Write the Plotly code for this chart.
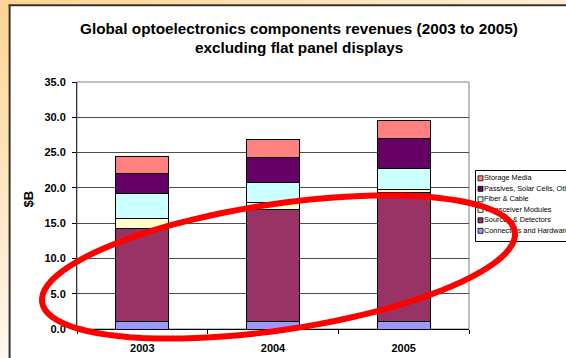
import math
import plotly.graph_objects as go

# Revenues by component group, $B
years = ["2003", "2004", "2005"]
connectors_hw = [1.0, 1.1, 1.1]
sources_detectors = [13.2, 15.8, 18.2]
transceiver_modules = [1.4, 1.0, 0.4]
fiber_cable = [3.6, 2.9, 3.0]
passives_solar_other = [2.9, 3.5, 4.3]
storage_media = [2.3, 2.6, 2.5]

series_names = ["Connectors and Hardware", "Sources & Detectors", "Transceiver Modules",
                "Fiber & Cable", "Passives, Solar Cells, Other", "Storage Media"]
series_values = [connectors_hw, sources_detectors, transceiver_modules,
                 fiber_cable, passives_solar_other, storage_media]
series_colors = ["#9999FF", "#993366", "#FFFFCC", "#CCFFFF", "#660066", "#FF8080"]

y_ticks = [0, 5, 10, 15, 20, 25, 30, 35]

FONT = "Arial, 'Liberation Sans', sans-serif"
W, H = 566, 358
ML, MR, MT, MB = 77, 0, 82, 29
PLOT_RIGHT = 469                      # right edge of the bar plot area, px
PW = W - ML - MR
PH = H - MT - MB
X_DOMAIN_END = (PLOT_RIGHT - ML) / PW


def paper(px, py):
    """Pixel position on the page -> paper coordinates."""
    return (px - ML) / PW, (H - MB - py) / PH


def mix(c1, c2, f):
    return "rgb(%d,%d,%d)" % tuple(round(a + (b - a) * f) for a, b in zip(c1, c2))


fig = go.Figure()

# stacked bars
for name, vals, col in zip(series_names, series_values, series_colors):
    fig.add_trace(go.Bar(
        x=years, y=vals, name=name,
        marker=dict(color=col, line=dict(color="#000000", width=1)),
        hoverinfo="skip", showlegend=False,
    ))

# legend, drawn on a hidden pixel-scaled axis pair covering the whole page area
leg_rows = list(zip(series_names, series_colors))[::-1]
leg_y_px = [178.3 + 10.5 * i for i in range(len(leg_rows))]
fig.add_trace(go.Scatter(
    x=[480.5] * len(leg_rows), y=leg_y_px, mode="markers", xaxis="x2", yaxis="y2",
    marker=dict(symbol="square", size=5, color=[c for _, c in leg_rows],
                line=dict(color="#000000", width=0.8)),
    cliponaxis=False, hoverinfo="skip", showlegend=False,
))
fig.add_trace(go.Scatter(
    x=[484.0] * len(leg_rows), y=leg_y_px, mode="text", xaxis="x2", yaxis="y2",
    text=[n for n, _ in leg_rows], textposition="middle right",
    textfont=dict(family=FONT, size=7.3, color="#000000"),
    cliponaxis=False, hoverinfo="skip", showlegend=False,
))

shapes = []

# orange gradient frame on the left and top
corner = (252, 212, 145)
left_end = (255, 247, 238)
top_end = (254, 238, 214)
n = 30
for i in range(n):
    ya, yb = H * i / n, H * (i + 1) / n + 0.6
    x0, y0 = paper(0, ya)
    x1, y1 = paper(9.5, yb)
    shapes.append(dict(type="rect", xref="paper", yref="paper", x0=x0, x1=x1, y0=y0, y1=y1,
                       fillcolor=mix(corner, left_end, (i + 0.5) / n), line_width=0, layer="below"))
for i in range(n):
    xa, xb = W * i / n, W * (i + 1) / n + 0.6
    x0, y0 = paper(xa, 0)
    x1, y1 = paper(xb, 5)
    shapes.append(dict(type="rect", xref="paper", yref="paper", x0=x0, x1=x1, y0=y0, y1=y1,
                       fillcolor=mix(corner, top_end, (i + 0.5) / n), line_width=0, layer="below"))
# dark frame edge
x0, y0 = paper(9.6, 5.2)
x1, y1 = paper(9.6, H + 2)
shapes.append(dict(type="line", xref="paper", yref="paper", x0=x0, x1=x1, y0=y0, y1=y1,
                   line=dict(color="#37322c", width=2), layer="below"))
x0, y0 = paper(8.6, 5.2)
x1, y1 = paper(W + 2, 5.2)
shapes.append(dict(type="line", xref="paper", yref="paper", x0=x0, x1=x1, y0=y0, y1=y1,
                   line=dict(color="#37322c", width=2), layer="below"))

# plot area border
shapes.append(dict(type="rect", xref="paper", yref="paper", x0=0, x1=X_DOMAIN_END, y0=0, y1=1,
                   line=dict(color="#808080", width=1), layer="below"))

# legend box (outline only; the page behind it is white)
x0, y0 = paper(475.5, 170.5)
x1, y1 = paper(620, 241.5)
shapes.append(dict(type="rect", xref="paper", yref="paper", x0=x0, x1=x1, y0=y0, y1=y1,
                   fillcolor="rgba(0,0,0,0)", line=dict(color="#000000", width=1), layer="below"))

# red hand-drawn highlight ellipse
cx, cy, ra, rb, th = 278.5, 267.0, 239.0, 63.0, math.radians(8.5)
pts = []
for k in range(97):
    t = 2 * math.pi * k / 96
    px = cx + ra * math.cos(t) * math.cos(th) + rb * math.sin(t) * math.sin(th)
    py = cy - ra * math.cos(t) * math.sin(th) + rb * math.sin(t) * math.cos(th)
    pts.append(paper(px, py))
path = "M " + " L ".join(f"{x:.5f},{y:.5f}" for x, y in pts) + " Z"
shapes.append(dict(type="path", xref="paper", yref="paper", path=path,
                   line=dict(color="#FF0000", width=6), layer="above"))

annotations = []
for text, py in [("Global optoelectronics components revenues (2003 to 2005)", 28.5),
                 ("excluding flat panel displays", 47.5)]:
    ax, ay = paper(298.5, py)
    annotations.append(dict(text=text, xref="paper", yref="paper", x=ax, y=ay,
                            xanchor="center", yanchor="middle", showarrow=False,
                            font=dict(family=FONT, size=15.3, color="#000000", weight="bold")))
ax, ay = paper(27.5, 199)
annotations.append(dict(text="$B", xref="paper", yref="paper", x=ax, y=ay, textangle=-90,
                        xanchor="center", yanchor="middle", showarrow=False,
                        font=dict(family=FONT, size=13, color="#000000", weight="bold")))

fig.update_layout(
    width=W, height=H,
    margin=dict(l=ML, r=MR, t=MT, b=MB, pad=0, autoexpand=False),
    paper_bgcolor="#FFFFFF", plot_bgcolor="rgba(0,0,0,0)",
    barmode="stack", bargap=0.594,
    showlegend=False,
    xaxis=dict(type="category", categoryorder="array", categoryarray=years,
               domain=[0, X_DOMAIN_END],
               tickson="boundaries", ticks="outside", ticklen=4, tickcolor="#000000",
               showline=True, linecolor="#000000", linewidth=1, showgrid=False,
               tickfont=dict(family=FONT, size=11, color="#000000", weight="bold"),
               ticklabelstandoff=9, fixedrange=True),
    yaxis=dict(range=[0, 35], tickvals=y_ticks, tickformat=".1f",
               ticks="outside", ticklen=4, tickcolor="#000000",
               showline=True, linecolor="#333333", linewidth=1,
               showgrid=True, gridcolor="#4d4d4d", gridwidth=1, zeroline=False,
               tickfont=dict(family=FONT, size=11, color="#000000", weight="bold"),
               ticklabelstandoff=4, fixedrange=True),
    xaxis2=dict(domain=[0, 1], range=[ML, W - MR], anchor="y2", visible=False, fixedrange=True),
    yaxis2=dict(domain=[0, 1], range=[H - MB, MT], anchor="x2", visible=False, fixedrange=True),
    shapes=shapes,
    annotations=annotations,
)

fig.write_html("out.html", config={"displayModeBar": False})
